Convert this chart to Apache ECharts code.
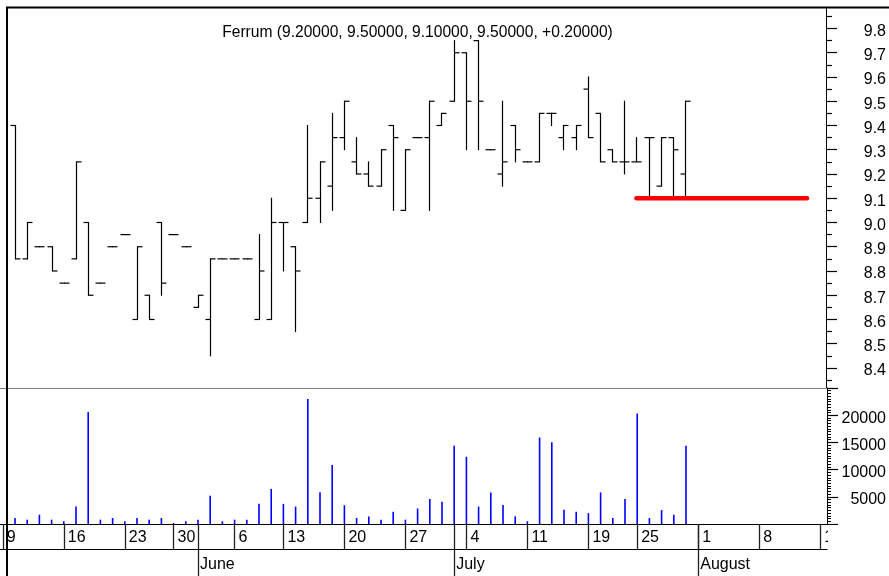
<!DOCTYPE html>
<html><head><meta charset="utf-8">
<script src="https://cdn.jsdelivr.net/npm/echarts@6/dist/echarts.min.js"></script>
<style>html,body{margin:0;padding:0;background:#fff}#c{width:889px;height:576px}</style>
</head><body><div id="c"></div>
<script>
// ---- data (trading-day index is the array position) ----
const titleText = 'Ferrum (9.20000, 9.50000, 9.10000, 9.50000, +0.20000)';
const opens  = [9.40,8.85,8.90,8.90,8.75,8.85,9.00,8.75,8.90,8.95,8.60,8.70,9.00,8.95,8.90,8.65,8.60,8.85,8.85,8.85,8.60,8.60,9.00,8.90,9.00,9.10,9.15,9.35,9.25,9.20,9.15,9.40,9.05,9.35,9.35,9.40,9.50,9.70,9.75,9.30,9.20,9.40,9.25,9.25,9.45,9.35,9.35,9.55,9.45,9.30,9.25,9.25,9.35,9.15,9.35,9.20];
const highs  = [9.40,9.00,8.90,8.90,8.75,9.25,9.00,8.75,8.90,8.95,8.90,8.70,9.00,8.95,8.90,8.70,8.85,8.85,8.85,8.85,8.95,9.10,9.00,8.90,9.40,9.25,9.45,9.50,9.35,9.25,9.30,9.40,9.30,9.35,9.50,9.45,9.75,9.70,9.75,9.30,9.50,9.40,9.25,9.45,9.45,9.40,9.40,9.60,9.45,9.30,9.50,9.35,9.35,9.35,9.35,9.50];
const lows   = [8.85,8.85,8.90,8.80,8.75,8.85,8.70,8.75,8.90,8.95,8.60,8.60,8.70,8.95,8.90,8.65,8.45,8.85,8.85,8.85,8.60,8.60,8.80,8.55,9.00,9.00,9.05,9.30,9.20,9.15,9.15,9.05,9.05,9.35,9.05,9.40,9.50,9.30,9.30,9.30,9.15,9.25,9.25,9.25,9.40,9.30,9.30,9.35,9.25,9.25,9.20,9.25,9.10,9.15,9.10,9.10];
const closes = [8.85,9.00,8.90,8.80,8.75,9.25,8.70,8.75,8.90,8.95,8.90,8.60,8.75,8.95,8.90,8.70,8.85,8.85,8.85,8.85,8.80,9.00,9.00,8.80,9.10,9.25,9.35,9.50,9.20,9.15,9.30,9.35,9.30,9.35,9.50,9.45,9.70,9.50,9.50,9.30,9.25,9.30,9.25,9.45,9.45,9.40,9.40,9.35,9.25,9.25,9.25,9.25,9.35,9.35,9.30,9.50];
const volumes = [1100,800,1700,800,500,3200,20600,800,1100,500,1100,800,1100,200,500,800,5200,500,800,800,3700,6450,3700,3200,23000,5850,10850,3450,1100,1400,800,2250,800,2850,4600,4100,14400,12350,3200,5800,3500,1400,500,15900,15050,2600,2250,2000,5800,1100,4600,20300,1100,2550,1700,14400];

const dayTickIdx    = [-1,4,9,13,18,22,27,32,37,42,47,51,56,61,66];
const dayTickLabels = ['9','16','23','30','6','13','20','27','4','11','19','25','1','8','15'];
const monthTickIdx    = [15,36,56];
const monthTickLabels = ['June','July','August'];

const priceTicks      = [8.4,8.5,8.6,8.7,8.8,8.9,9.0,9.1,9.2,9.3,9.4,9.5,9.6,9.7,9.8];
const priceMinorTicks = [8.35,8.45,8.55,8.65,8.75,8.85,8.95,9.05,9.15,9.25,9.35,9.45,9.55,9.65,9.75,9.85];
const volumeTickLabels = [5000,10000,15000,20000];

const supportLevel = 9.1, supportFrom = 51, supportTo = 65;

// ---- chart ----
const FONT = 'Liberation Sans, Arial, sans-serif';
const X_MIN = -1.2295, X_MAX = 66.557;
const P_MIN = 8.3175, P_MAX = 9.8845;

const ohlcData = opens.map((o, i) => [i, o, highs[i], lows[i], closes[i]]);
const volData = volumes.map((v, i) => [i, v]);
const dayTickAll = dayTickIdx.concat(monthTickIdx);

function renderOHLC(params, api) {
  const x = api.value(0);
  const pO = api.coord([x, api.value(1)]);
  const pH = api.coord([x, api.value(2)]);
  const pL = api.coord([x, api.value(3)]);
  const pC = api.coord([x, api.value(4)]);
  const X = Math.round(pH[0]) + 0.5;
  const t = 5;
  const st = { stroke: '#000', lineWidth: 1.2 };
  return { type: 'group', children: [
    { type: 'line', shape: { x1: X, y1: pH[1] - 0.5, x2: X, y2: pL[1] + 0.5 }, style: st },
    { type: 'line', shape: { x1: X - t, y1: pO[1], x2: X, y2: pO[1] }, style: st },
    { type: 'line', shape: { x1: X, y1: pC[1], x2: X + t, y2: pC[1] }, style: st }
  ]};
}

const hiddenX = (g) => ({ type: 'value', gridIndex: g, min: X_MIN, max: X_MAX, show: false,
  axisLine: { show: false, onZero: false }, splitLine: { show: false } });

const richLabel = { l: { fontSize: 16, fontFamily: FONT, color: '#000', padding: [6, 0, 0, 0] } };

const chart = echarts.init(document.getElementById('c'), null, { renderer: 'canvas' });
chart.setOption({
  animation: false,
  backgroundColor: '#fff',
  textStyle: { fontFamily: FONT },
  title: {
    text: titleText, left: 417.5, top: 24.5, textAlign: 'center', padding: 0,
    textStyle: { fontFamily: FONT, fontSize: 15.6, fontWeight: 'normal', color: '#000' }
  },
  grid: [
    { left: 0, right: 62, top: 8, height: 380 },
    { left: 0, right: 62, top: 388, bottom: 52 },
    { left: 0, right: 62, top: 8, height: 380 }
  ],
  xAxis: [
    { type: 'value', gridIndex: 0, min: X_MIN, max: X_MAX, position: 'bottom',
      axisLine: { show: true, onZero: false, lineStyle: { color: '#808080', width: 1 } },
      axisTick: { show: false }, axisLabel: { show: false }, splitLine: { show: false } },
    { type: 'value', gridIndex: 1, min: X_MIN, max: X_MAX, position: 'bottom',
      axisLine: { show: true, onZero: false, lineStyle: { color: '#000', width: 1 } },
      axisTick: { show: true, customValues: dayTickAll, length: 25, lineStyle: { color: '#222', width: 1.3 } },
      axisLabel: { show: true, customValues: dayTickIdx, align: 'left', margin: 6, padding: [0, 0, 0, 4],
        fontSize: 16, fontFamily: FONT, color: '#000',
        formatter: v => { const k = dayTickIdx.indexOf(Math.round(v)); return k >= 0 ? dayTickLabels[k] : ''; } },
      splitLine: { show: false } },
    { type: 'value', gridIndex: 1, min: X_MIN, max: X_MAX, position: 'bottom', offset: 25,
      axisLine: { show: true, onZero: false, lineStyle: { color: '#000', width: 1 } },
      axisTick: { show: true, customValues: monthTickIdx, length: 27, lineStyle: { color: '#222', width: 1.3 } },
      axisLabel: { show: true, customValues: monthTickIdx, align: 'left', margin: 8, padding: [0, 0, 0, 2],
        fontSize: 16, fontFamily: FONT, color: '#000',
        formatter: v => { const k = monthTickIdx.indexOf(Math.round(v)); return k >= 0 ? monthTickLabels[k] : ''; } },
      splitLine: { show: false } },
    hiddenX(2)
  ],
  yAxis: [
    { type: 'value', gridIndex: 0, position: 'right', min: P_MIN, max: P_MAX,
      axisLine: { show: true, onZero: false, lineStyle: { color: '#000', width: 1 } },
      axisTick: { show: true, customValues: priceTicks, length: 11, lineStyle: { color: '#000', width: 1.2 } },
      axisLabel: { show: true, customValues: priceTicks, align: 'right', margin: 60,
        rich: richLabel, formatter: v => '{l|' + v.toFixed(1) + '}' },
      splitLine: { show: false } },
    { type: 'value', gridIndex: 1, position: 'right', min: 0, max: 25000, interval: 5000,
      axisLine: { show: true, onZero: false, lineStyle: { color: '#000', width: 1 } },
      axisTick: { show: true, length: 11, lineStyle: { color: '#000', width: 1.2 } },
      minorTick: { show: true, splitNumber: 10, length: 4, lineStyle: { color: '#000', width: 1 } },
      axisLabel: { show: true, align: 'right', margin: 59, rich: richLabel,
        formatter: v => volumeTickLabels.indexOf(v) >= 0 ? '{l|' + v + '}' : '' },
      splitLine: { show: false } },
    { type: 'value', gridIndex: 2, position: 'right', min: P_MIN, max: P_MAX,
      axisLine: { show: false, onZero: false },
      axisTick: { show: true, customValues: priceMinorTicks, length: 5, lineStyle: { color: '#000', width: 1.2 } },
      axisLabel: { show: false }, splitLine: { show: false } }
  ],
  series: [
    { name: 'Ferrum', type: 'custom', xAxisIndex: 0, yAxisIndex: 0, renderItem: renderOHLC,
      data: ohlcData, encode: { x: 0, y: [1, 2, 3, 4] }, clip: true, z: 3 },
    { name: 'Support', type: 'line', xAxisIndex: 0, yAxisIndex: 0, showSymbol: false, symbol: 'none',
      data: [[supportFrom, supportLevel], [supportTo, supportLevel]],
      lineStyle: { color: '#ff0000', width: 4.5, cap: 'round' }, z: 4, silent: true },
    { name: 'Volume', type: 'bar', xAxisIndex: 1, yAxisIndex: 1, data: volData, barWidth: 1.6,
      itemStyle: { color: '#0000ff' }, silent: true }
  ],
  graphic: [
    { type: 'rect', shape: { x: 828, y: 525, width: 61, height: 51 }, style: { fill: '#fff' }, z: 100 },
    { type: 'line', shape: { x1: 7, y1: 7, x2: 7, y2: 576 }, style: { stroke: '#000', lineWidth: 2 }, z: 100 },
    { type: 'line', shape: { x1: 6, y1: 7.5, x2: 889, y2: 7.5 }, style: { stroke: '#000', lineWidth: 2 }, z: 100 }
  ]
});
</script></body></html>
